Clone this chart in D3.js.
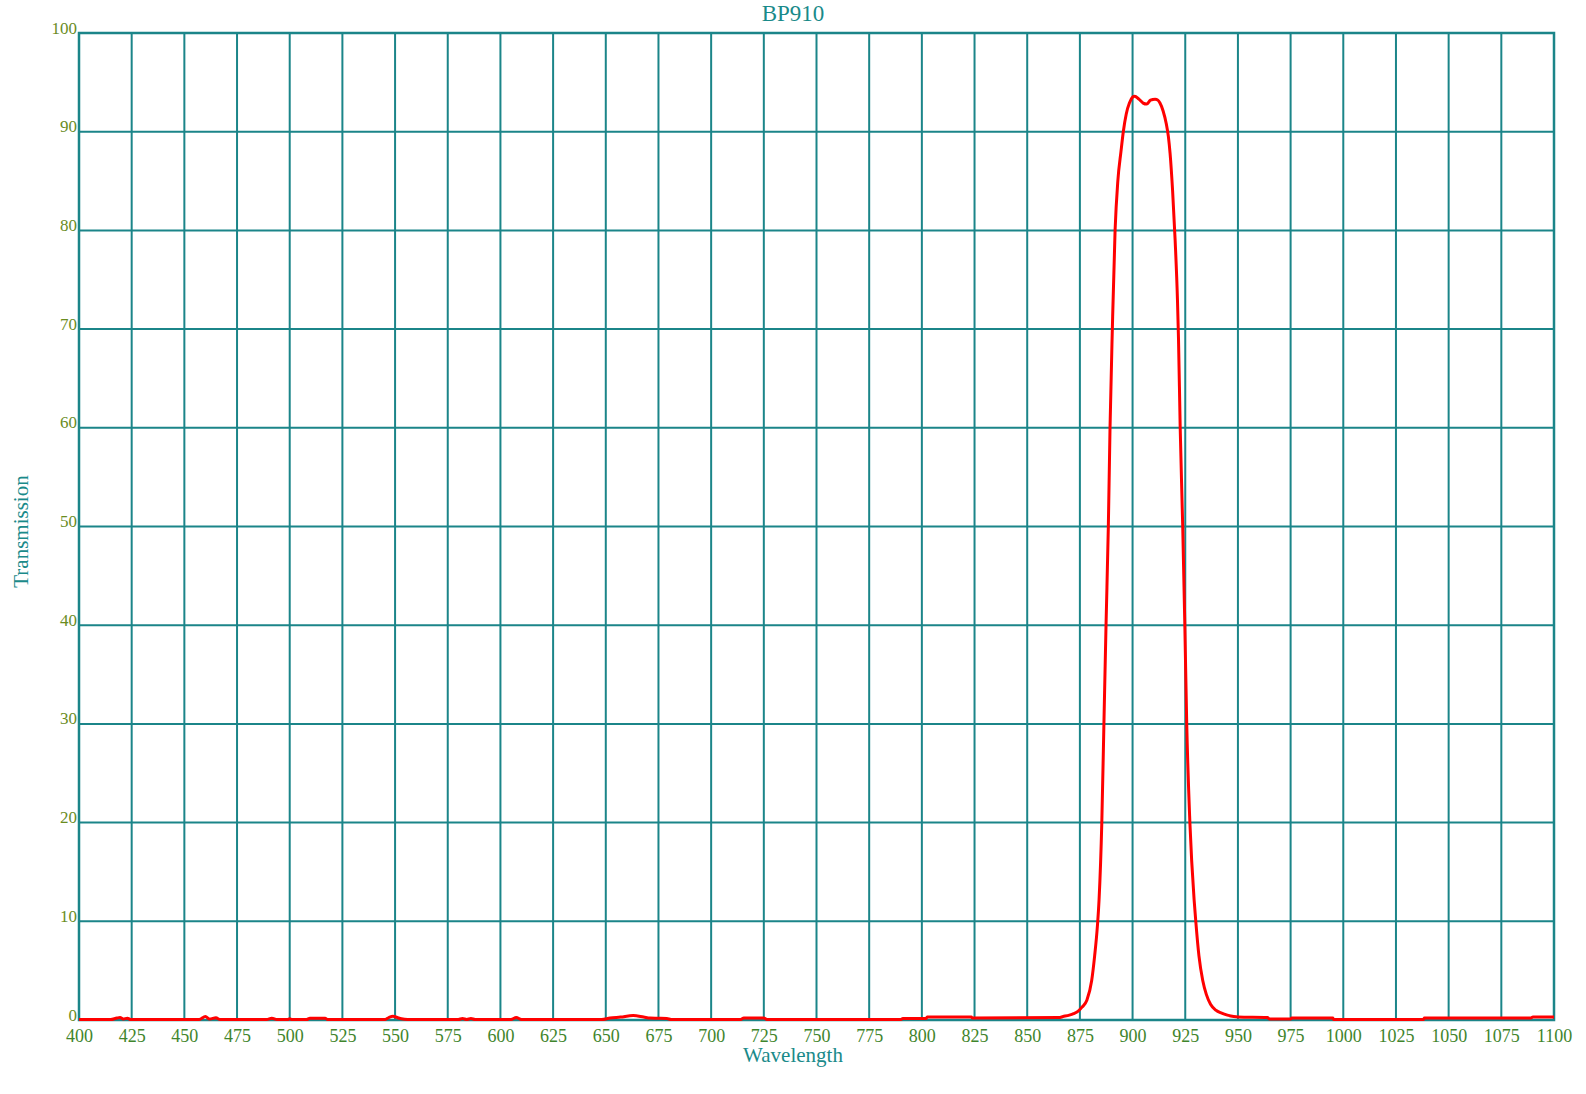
<!DOCTYPE html>
<html>
<head>
<meta charset="utf-8">
<script src="https://cdn.jsdelivr.net/npm/d3@7"></script>
<style>
	body { margin: 0; background: #ffffff; }
	svg { display: block; }
</style>
</head>
<body>
<div id="app"></div>
<script>
// Chart data
const titleText = "BP910";
const xLabel = "Wavelength";
const yLabel = "Transmission";

const xTicks = [400, 425, 450, 475, 500, 525, 550, 575, 600, 625, 650, 675, 700, 725, 750, 775, 800, 825, 850, 875, 900, 925, 950, 975, 1000, 1025, 1050, 1075, 1100];
const yTicks = [0, 10, 20, 30, 40, 50, 60, 70, 80, 90, 100];

const wavelength = [
	400, 415, 418, 419.5, 421, 423, 424.5, 457, 460, 462, 465, 467, 489, 491.5, 494, 499, 500, 501,
	508, 509.6, 516.8, 518, 545, 547, 549, 551, 553, 556, 580, 582, 584, 586, 588, 605, 607.5, 610,
	648, 652, 657, 663, 668, 671, 675, 679, 681, 714, 715.5, 725, 726.5, 790, 791, 802, 802.5, 823.5,
	824, 865, 867, 870, 872, 874.2, 876, 878.3, 880.6, 882, 883.3, 884.1, 885.4, 886.4, 887.4, 888.5,
	889.3, 890.4, 891.7, 893, 894.5, 895.6, 897, 898.5, 900, 901, 903, 905, 906.7, 908.5, 910.7, 912,
	913, 914.5, 916, 917, 917.8, 919, 920.2, 921.3, 921.8, 922.6, 923.8, 924.8, 925.7, 927.2, 929.2,
	930, 931.5, 933.3, 935, 937, 939.5, 942.3, 945, 948, 950, 964, 965, 975, 975.5, 995, 995.5,
	1038, 1038.5, 1089, 1090, 1100
];
const transmission = [
	0.05, 0.05, 0.2, 0.25, 0.1, 0.18, 0.05, 0.05, 0.35, 0.1, 0.22, 0.05, 0.05, 0.18, 0.05, 0.05, 0.12, 0.05,
	0.05, 0.18, 0.18, 0.05, 0.05, 0.25, 0.38, 0.25, 0.12, 0.05, 0.05, 0.15, 0.05, 0.15, 0.05, 0.05, 0.25, 0.05,
	0.05, 0.2, 0.3, 0.45, 0.3, 0.2, 0.18, 0.15, 0.05, 0.05, 0.2, 0.2, 0.05, 0.05, 0.15, 0.15, 0.3, 0.3,
	0.2, 0.25, 0.35, 0.5, 0.65, 0.9, 1.3, 2.0, 4.0, 6.5, 9.5, 12.2, 20, 30, 40, 50,
	60, 70, 80, 85, 88, 90, 91.8, 92.9, 93.5, 93.6, 93.3, 92.9, 92.8, 93.2, 93.3, 93.2,
	92.9, 92.1, 90.8, 89.5, 87.8, 84, 79, 73, 69, 60, 50, 40, 30, 20, 12.2,
	10, 6.5, 4, 2.6, 1.6, 1.0, 0.7, 0.5, 0.35, 0.3, 0.25, 0.1, 0.1, 0.2, 0.2, 0.05,
	0.05, 0.2, 0.2, 0.3, 0.3
];

const dimensions = {
	width: 1586,
	height: 1094,
	margin: { top: 33, right: 32, bottom: 74, left: 79 }
};

const gridColor = "#1b8589";
const labelColor = "#1a8a8a";

let width = dimensions.width - dimensions.margin.left - dimensions.margin.right;
let height = dimensions.height - dimensions.margin.top - dimensions.margin.bottom;

let root = d3.select("#app")
	.append("svg")
	.attr("width", dimensions.width)
	.attr("height", dimensions.height)
	.style("font-family", "'Liberation Serif', 'DejaVu Serif', serif");

let svg = root.append("g")
	.attr("transform", "translate(" + dimensions.margin.left + "," + dimensions.margin.top + ")");

// Scales
let x = d3.scaleLinear()
	.domain([400, 1100])
	.range([0, width]);

let y = d3.scaleLinear()
	.domain([0, 100])
	.range([height, 0]);

// Grid lines
svg.append("g")
	.attr("class", "grid-x")
	.selectAll("line")
	.data(xTicks)
	.enter()
	.append("line")
		.attr("x1", d => x(d))
		.attr("x2", d => x(d))
		.attr("y1", 0)
		.attr("y2", height)
		.attr("stroke", gridColor)
		.attr("stroke-width", 2);

svg.append("g")
	.attr("class", "grid-y")
	.selectAll("line")
	.data(yTicks)
	.enter()
	.append("line")
		.attr("x1", 0)
		.attr("x2", width)
		.attr("y1", d => y(d))
		.attr("y2", d => y(d))
		.attr("stroke", gridColor)
		.attr("stroke-width", 2);

// Frame
svg.append("rect")
	.attr("x", 0)
	.attr("y", 0)
	.attr("width", width)
	.attr("height", height)
	.attr("fill", "none")
	.attr("stroke", gridColor)
	.attr("stroke-width", 2.5);

// Add x-axis labels
let xAxis = svg.append("g")
	.attr("transform", "translate(0," + height + ")")
	.call(d3.axisBottom(x).tickValues(xTicks).tickSize(0).tickPadding(9).tickFormat(d3.format("d")));
xAxis.select(".domain").remove();
xAxis.selectAll("text")
	.attr("fill", "#3f852c")
	.style("font-size", "18px")
	.style("font-family", "'Liberation Serif', serif");

// Add y-axis labels
let yAxis = svg.append("g")
	.call(d3.axisLeft(y).tickValues(yTicks).tickSize(0).tickPadding(2).tickFormat(d3.format("d")));
yAxis.select(".domain").remove();
yAxis.selectAll("text")
	.attr("dy", "0")
	.attr("fill", "#6a8c1f")
	.style("font-size", "17px")
	.style("font-family", "'Liberation Serif', serif");

// Transmission curve
let points = wavelength.map((w, i) => ({ w: w, t: transmission[i] }));

let line = d3.line()
	.x(d => x(d.w))
	.y(d => y(d.t))
	.curve(d3.curveMonotoneX);

svg.append("path")
	.datum(points)
	.attr("d", line)
	.attr("fill", "none")
	.attr("stroke", "#ff0000")
	.attr("stroke-width", 3)
	.attr("stroke-linejoin", "round");

// Title and axis titles
root.append("text")
	.attr("x", dimensions.width / 2)
	.attr("y", 21)
	.attr("text-anchor", "middle")
	.attr("fill", labelColor)
	.style("font-size", "23px")
	.text(titleText);

root.append("text")
	.attr("x", dimensions.width / 2)
	.attr("y", 1062)
	.attr("text-anchor", "middle")
	.attr("fill", labelColor)
	.style("font-size", "21px")
	.text(xLabel);

root.append("text")
	.attr("transform", "translate(28," + (dimensions.margin.top + height / 2 + 5) + ")rotate(-90)")
	.attr("text-anchor", "middle")
	.attr("fill", labelColor)
	.style("font-size", "21px")
	.text(yLabel);
</script>
</body>
</html>
